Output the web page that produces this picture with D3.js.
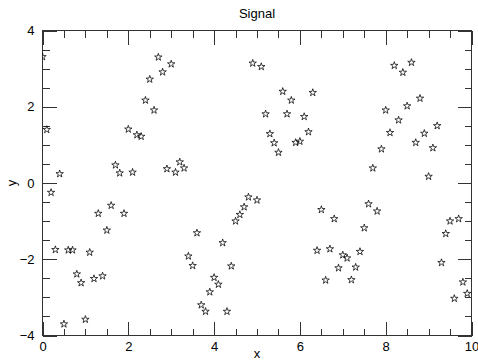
<!DOCTYPE html>
<html><head><meta charset="utf-8">
<script src="https://cdn.jsdelivr.net/npm/d3@7"></script>
<style>body{margin:0;background:#fff}svg{display:block}</style>
</head><body>
<script>
const xValues = [0.0,0.1,0.2,0.3,0.4,0.5,0.6,0.7,0.8,0.9,1.0,1.1,1.2,1.3,1.4,1.5,1.6,1.7,1.8,1.9,
2.0,2.1,2.2,2.3,2.4,2.5,2.6,2.7,2.8,2.9,3.0,3.1,3.2,3.3,3.4,3.5,3.6,3.7,3.8,3.9,
4.0,4.1,4.2,4.3,4.4,4.5,4.6,4.7,4.8,4.9,5.0,5.1,5.2,5.3,5.4,5.5,5.6,5.7,5.8,5.9,
6.0,6.1,6.2,6.3,6.4,6.5,6.6,6.7,6.8,6.9,7.0,7.1,7.2,7.3,7.4,7.5,7.6,7.7,7.8,7.9,
8.0,8.1,8.2,8.3,8.4,8.5,8.6,8.7,8.8,8.9,9.0,9.1,9.2,9.3,9.4,9.5,9.6,9.7,9.8,9.9];
const yValues = [3.31,1.40,-0.25,-1.75,0.24,-3.70,-1.76,-1.76,-2.39,-2.62,-3.58,-1.82,-2.51,-0.80,-2.44,-1.24,-0.59,0.47,0.26,-0.80,
1.41,0.28,1.26,1.22,2.17,2.72,1.91,3.30,2.91,0.37,3.12,0.28,0.55,0.39,-1.92,-2.17,-1.31,-3.20,-3.37,-2.86,
-2.48,-2.66,-1.57,-3.37,-2.18,-1.00,-0.83,-0.63,-0.37,3.14,-0.45,3.05,1.81,1.29,1.05,0.80,2.40,1.81,2.17,1.06,
1.09,1.74,1.34,2.37,-1.77,-0.70,-2.55,-1.73,-0.94,-2.23,-1.89,-1.97,-2.54,-2.21,-1.80,-1.18,-0.55,0.39,-0.74,0.89,
1.91,1.32,3.08,1.65,2.90,2.02,3.16,1.06,2.22,1.30,0.17,0.92,1.50,-2.09,-1.33,-1.00,-3.03,-0.94,-2.60,-2.90];
const xMajorTicks = [0,2,4,6,8,10];
const yMajorTicks = [-4,-2,0,2,4];
const xMinorTicks = [0.5,1,1.5,2.5,3,3.5,4.5,5,5.5,6.5,7,7.5,8.5,9,9.5];
const yMinorTicks = [-3.5,-3,-2.5,-1.5,-1,-0.5,0.5,1,1.5,2.5,3,3.5];
const titleText = "Signal", xLabel = "x", yLabel = "y";

const W = 478, H = 361;
const L = 42.5, R = 471.5, T = 30.5, B = 335.5;
const font = "'Liberation Sans', Arial, Helvetica, sans-serif";
const axisColor = "#333";

const svg = d3.select("body").append("svg").attr("width", W).attr("height", H);
const x = d3.scaleLinear().domain([0,10]).range([L,R]);
const y = d3.scaleLinear().domain([-4,4]).range([B,T]);

function style(g, labels){
  g.select(".domain").remove();
  g.selectAll(".tick line").attr("stroke", axisColor).attr("shape-rendering","crispEdges");
  g.selectAll(".tick text").attr("font-family", font).attr("font-size", 13).attr("fill","#000");
  if(!labels) g.selectAll(".tick text").remove();
}
const fmt = d3.format("d");
svg.append("g").attr("transform",`translate(0,${B})`)
  .call(d3.axisBottom(x).tickValues(xMajorTicks).tickSize(-14).tickSizeOuter(0).tickPadding(6).tickFormat(fmt)).call(g=>style(g,true));
svg.append("g").attr("transform",`translate(0,${B})`)
  .call(d3.axisBottom(x).tickValues(xMinorTicks).tickSize(-7).tickSizeOuter(0)).call(g=>style(g,false));
svg.append("g").attr("transform",`translate(0,${T})`)
  .call(d3.axisTop(x).tickValues(xMajorTicks).tickSize(-14).tickSizeOuter(0)).call(g=>style(g,false));
svg.append("g").attr("transform",`translate(0,${T})`)
  .call(d3.axisTop(x).tickValues(xMinorTicks).tickSize(-7).tickSizeOuter(0)).call(g=>style(g,false));
svg.append("g").attr("transform",`translate(${L},0)`)
  .call(d3.axisLeft(y).tickValues(yMajorTicks).tickSize(-14).tickSizeOuter(0).tickPadding(8).tickFormat(fmt)).call(g=>style(g,true));
svg.append("g").attr("transform",`translate(${L},0)`)
  .call(d3.axisLeft(y).tickValues(yMinorTicks).tickSize(-7).tickSizeOuter(0)).call(g=>style(g,false));
svg.append("g").attr("transform",`translate(${R},0)`)
  .call(d3.axisRight(y).tickValues(yMajorTicks).tickSize(-14).tickSizeOuter(0)).call(g=>style(g,false));
svg.append("g").attr("transform",`translate(${R},0)`)
  .call(d3.axisRight(y).tickValues(yMinorTicks).tickSize(-7).tickSizeOuter(0)).call(g=>style(g,false));

svg.append("rect").attr("x",L).attr("y",T).attr("width",R-L).attr("height",B-T)
  .attr("fill","none").attr("stroke",axisColor).attr("shape-rendering","crispEdges");

svg.append("clipPath").attr("id","clip").append("rect")
  .attr("x",L).attr("y",T).attr("width",R-L).attr("height",B-T);

const star = d3.symbol().type(d3.symbolStar).size(17);
svg.append("g").attr("clip-path","url(#clip)").selectAll("path")
  .data(xValues.map((v,i)=>({x:v,y:yValues[i]})))
  .join("path")
  .attr("d", star)
  .attr("transform", d=>`translate(${x(d.x)},${y(d.y)})`)
  .attr("fill","none").attr("stroke","#000").attr("stroke-width",0.75);

svg.append("text").attr("x",(L+R)/2).attr("y",18).attr("text-anchor","middle")
  .attr("font-family",font).attr("font-size",13).text(titleText);
svg.append("text").attr("x",(L+R)/2).attr("y",358).attr("text-anchor","middle")
  .attr("font-family",font).attr("font-size",13).text(xLabel);
svg.append("text").attr("transform",`translate(16,${(T+B)/2}) rotate(-90)`).attr("text-anchor","middle")
  .attr("font-family",font).attr("font-size",13).text(yLabel);
</script>
</body></html>
